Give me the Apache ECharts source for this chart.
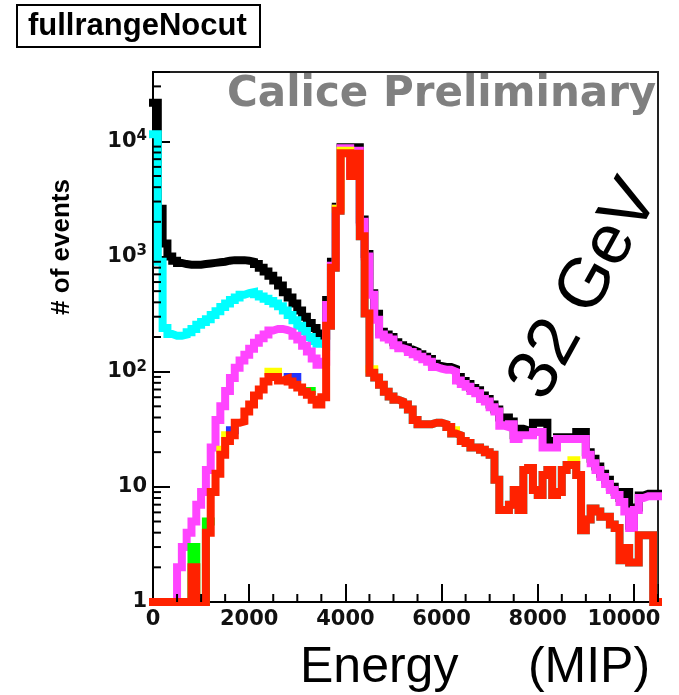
<!DOCTYPE html>
<html><head><meta charset="utf-8">
<script src="https://cdn.jsdelivr.net/npm/echarts@6/dist/echarts.min.js"></script>
<style>html,body{margin:0;padding:0;background:#fff;}#c{width:679px;height:695px;}</style>
</head><body><div id="c"></div>
<script>
// ---- data (bin lower edges, MIP) ----
const binLow = [0,100,200,300,400,500,600,700,800,900,1000,1100,1200,1300,1400,1500,1600,1700,1800,1900,2000,2100,2200,2300,2400,2500,2600,2700,2800,2900,3000,3100,3200,3300,3400,3500,3600,3700,3800,3900,4000,4100,4200,4300,4400,4500,4600,4700,4800,4900,5000,5100,5200,5300,5400,5500,5600,5700,5800,5900,6000,6100,6200,6300,6400,6500,6600,6700,6800,6900,7000,7100,7200,7300,7400,7500,7600,7700,7800,7900,8000,8100,8200,8300,8400,8500,8600,8700,8800,8900,9000,9100,9200,9300,9400,9500,9600,9700,9800,9900,10000,10100,10200,10300,10400];
const binUpperEdge = 10500;

const blackCounts = [21600,2600,1300,1000,920,880,860,850,850,850,
 860,870,880,890,900,920,930,930,930,920,
 900,860,800,740,680,620,560,490,440,390,
 340,300,265,240,215,205,420,900,2700,8900,
 8900,5400,8900,2100,1050,480,318,222,210,200,
 180,170,163,156,150,142,135,129,117,112,
 110,110,106,90,83,78,72,69,62,58,
 52,47,40,40,37,28,32,31,30,36,
 36,36,25,23,27,27,27,27,30,30,
 20,17.5,15,13,11.5,10,9,8,9,4.6,
 6.6,8.4,8.7,8.7,8.7];

const cyanCounts = [11500,900,240,212,205,205,210,220,235,255,
 270,285,310,335,365,390,420,440,465,480,
 490,470,450,430,410,390,370,340,310,280,
 250,225,200,185,175,170,250,800,2500,7900,
 7900,5000,7800,1500,320,98,89,77,67,61,
 57,55,52,47,38,35,35,35,36,36,
 35,33,29,28,25,24,22,22,21,20,
 19,11.5,6.3,6.3,7,9.4,6.3,14,14.6,9.4,
 8.5,12.7,14,8.5,9,14,15.5,15.5,12.7,4.2,
 5.2,6.5,6.1,5.5,5.5,4.7,4.4,2.3,2.95,2.2,
 2.2,3.8,3.8,3.8,1];

const magentaCounts = [1,1,1,1,1,2,3,4,5,7,
 9,14,22,38,50,68,88,108,125,140,
 158,178,195,210,228,235,235,230,222,205,
 190,168,150,130,115,122,380,830,2600,8700,
 8700,5200,8300,2000,1000,465,283,210,198,190,
 170,160,155,148,142,135,128,122,110,106,
 104,104,100,84,78,74,68,65,58,55,
 49,45,34,33,35,26,28,28,28,30,
 30,22,22,22,26,26,26,26,26,26,
 19,16,14,12.2,10.6,9.4,8.5,7.4,6.1,4.4,
 6.3,8.0,8.3,8.3,8.3];

const redCounts = [1,1,1,1,1,1,1,1,2,1,
 1,4,9,13,19,25,28,36,37,45,
 52,62,70,82,90,90,84,87,82,77,
 73,67,63,57,52,60,250,800,2500,7900,
 7900,5000,7800,1500,320,98,89,77,67,61,
 57,55,52,47,38,35,35,35,36,36,
 35,33,29,28,25,24,22,22,21,20,
 19,11.5,6.3,6.3,7,9.4,6.3,14,14.6,9.4,
 8.5,12.7,14,8.5,9,14,15.5,15.5,12.7,4.2,
 5.2,6.5,6.1,5.5,5.5,4.7,4.4,2.3,2.95,2.2,
 2.2,3.8,3.8,3.8,1];

// small visible slivers of the other overlaid histograms ([edge, count], '-' = gap)
const greenPts  = [[700,1],[800,3],[900,1],[1000,1],[1100,5],[1200,5],[1200,'-'],[3200,68],[3300,68]];
const bluePts   = [[1600,31],[1700,31],[1700,'-'],[2800,90],[3000,90]];
const yellowPts = [[1400,21],[1500,28],[1600,28],[1600,'-'],[2400,100],[2600,100],[2600,'-'],
                   [3800,2600],[3900,8300],[4100,8300],[4100,'-'],[4500,105],[4600,105],[4600,'-'],
                   [6200,31],[6300,31],[6300,'-'],[8700,17],[8800,17]];

const xTickLabels = ['0','2000','4000','6000','8000','10000'];
const yTickLabels = ['1','10','10{s|2}','10{s|3}','10{s|4}'];

// ---- build ----
function hist(vals){ const d = binLow.map((e,i)=>[e, vals[i]]); d.push([binUpperEdge, vals[vals.length-1]]); return d; }

const xMinor = []; for (let v=500; v<=binUpperEdge; v+=500) if (v%2000!==0) xMinor.push([v,1]);
const yMinor = []; for (let d=0; d<5; d++) for (let m=2; m<=9; m++){ const v=m*Math.pow(10,d); if (v<40000) yMinor.push([0,v]); }

const lineBase = {type:'line', step:'end', showSymbol:false, symbol:'none', clip:false, animation:false, silent:true};
function mk(name, data, color, z){
  return Object.assign({}, lineBase, {name, data, z,
    lineStyle:{color, width:8, join:'miter', cap:'square'}});
}

const chart = echarts.init(document.getElementById('c'), null, {renderer:'canvas'});
chart.setOption({
  animation:false,
  backgroundColor:'#fff',
  grid:{left:153, right:21, top:72, bottom:93, containLabel:false, outerBoundsMode:'none',
        show:true, borderColor:'#222', borderWidth:2, backgroundColor:'#fff'},
  xAxis:{type:'value', min:0, max:binUpperEdge, interval:2000,
    axisLine:{show:true, onZero:false, lineStyle:{color:'#000', width:2}},
    axisTick:{show:true, inside:true, length:18, lineStyle:{color:'#000', width:2}},
    minorTick:{show:false}, splitLine:{show:false},
    axisLabel:{margin:7, fontFamily:'DejaVu Sans', fontWeight:'bold', fontSize:21, color:'#111',
      rich:{r:{fontFamily:'DejaVu Sans', fontWeight:'bold', fontSize:21, color:'#111', padding:[0,20,0,0]}},
      formatter:(v)=>{ const i = xTickLabels.indexOf(String(v)); if (i<0) return '';
        return i===xTickLabels.length-1 ? '{r|'+xTickLabels[i]+'}' : xTickLabels[i]; }}},
  yAxis:{type:'log', logBase:10, min:1, max:40000,
    axisLine:{show:true, onZero:false, lineStyle:{color:'#000', width:2}},
    axisTick:{show:true, inside:true, length:17, lineStyle:{color:'#000', width:2}},
    minorTick:{show:false}, splitLine:{show:false},
    axisLabel:{margin:6, fontFamily:'DejaVu Sans', fontWeight:'bold', fontSize:21, color:'#111',
      formatter:(v)=>{ const k = Math.log10(v); const r = Math.round(k);
        if (Math.abs(k-r)>1e-6 || r<0 || r>=yTickLabels.length) return ''; return yTickLabels[r]; },
      rich:{s:{fontFamily:'DejaVu Sans', fontWeight:'bold', fontSize:15, verticalAlign:'top', padding:[0,0,10,0], color:'#111'}}}},
  series:[
    mk('black', hist(blackCounts), '#000000', 2),
    mk('cyan', hist(cyanCounts), '#00ffff', 3),
    mk('magenta', hist(magentaCounts), '#ff44ff', 4),
    mk('yellow', yellowPts, '#ffff00', 5),
    mk('green', greenPts, '#00ff00', 6),
    mk('blue', bluePts, '#2233ff', 7),
    mk('red', hist(redCounts), '#ff2200', 8),
    {type:'custom', coordinateSystem:'cartesian2d', data:xMinor, encode:{x:0,y:1}, clip:false, silent:true, z:10,
      renderItem:(p,api)=>{ const c = api.coord([api.value(0), api.value(1)]);
        return {type:'line', shape:{x1:c[0], y1:c[1], x2:c[0], y2:c[1]-8}, style:{stroke:'#000', lineWidth:2}}; }},
    {type:'custom', coordinateSystem:'cartesian2d', data:yMinor, encode:{x:0,y:1}, clip:false, silent:true, z:10,
      renderItem:(p,api)=>{ const c = api.coord([api.value(0), api.value(1)]);
        return {type:'line', shape:{x1:c[0], y1:c[1], x2:c[0]+8, y2:c[1]}, style:{stroke:'#000', lineWidth:2}}; }}
  ],
  graphic:[
    {type:'rect', shape:{x:17, y:5, width:243, height:42}, style:{fill:'#fff', stroke:'#000', lineWidth:2}, z:100},
    {type:'text', x:28, y:26, z:101, style:{text:'fullrangeNocut', fontFamily:'Liberation Sans', fontWeight:'bold', fontSize:31, fill:'#000', align:'left', verticalAlign:'middle'}},
    {type:'text', x:227, y:95, z:101, style:{text:'Calice Preliminary', fontFamily:'DejaVu Sans', fontWeight:'bold', fontSize:42, fill:'#808080', align:'left', verticalAlign:'middle'}},
    {type:'text', x:585, y:290, rotation:61*Math.PI/180, z:101, style:{text:'32 GeV', fontFamily:'Liberation Sans', fontSize:70, fill:'#000', align:'center', verticalAlign:'middle'}},
    {type:'text', x:62, y:247, rotation:Math.PI/2, z:101, style:{text:'# of events', fontFamily:'Liberation Sans', fontWeight:'bold', fontSize:26, fill:'#000', align:'center', verticalAlign:'middle'}},
    {type:'text', x:300, y:668, z:101, style:{text:'Energy     (MIP)', fontFamily:'Liberation Sans', fontSize:50, fill:'#000', align:'left', verticalAlign:'middle'}}
  ]
});
</script></body></html>
